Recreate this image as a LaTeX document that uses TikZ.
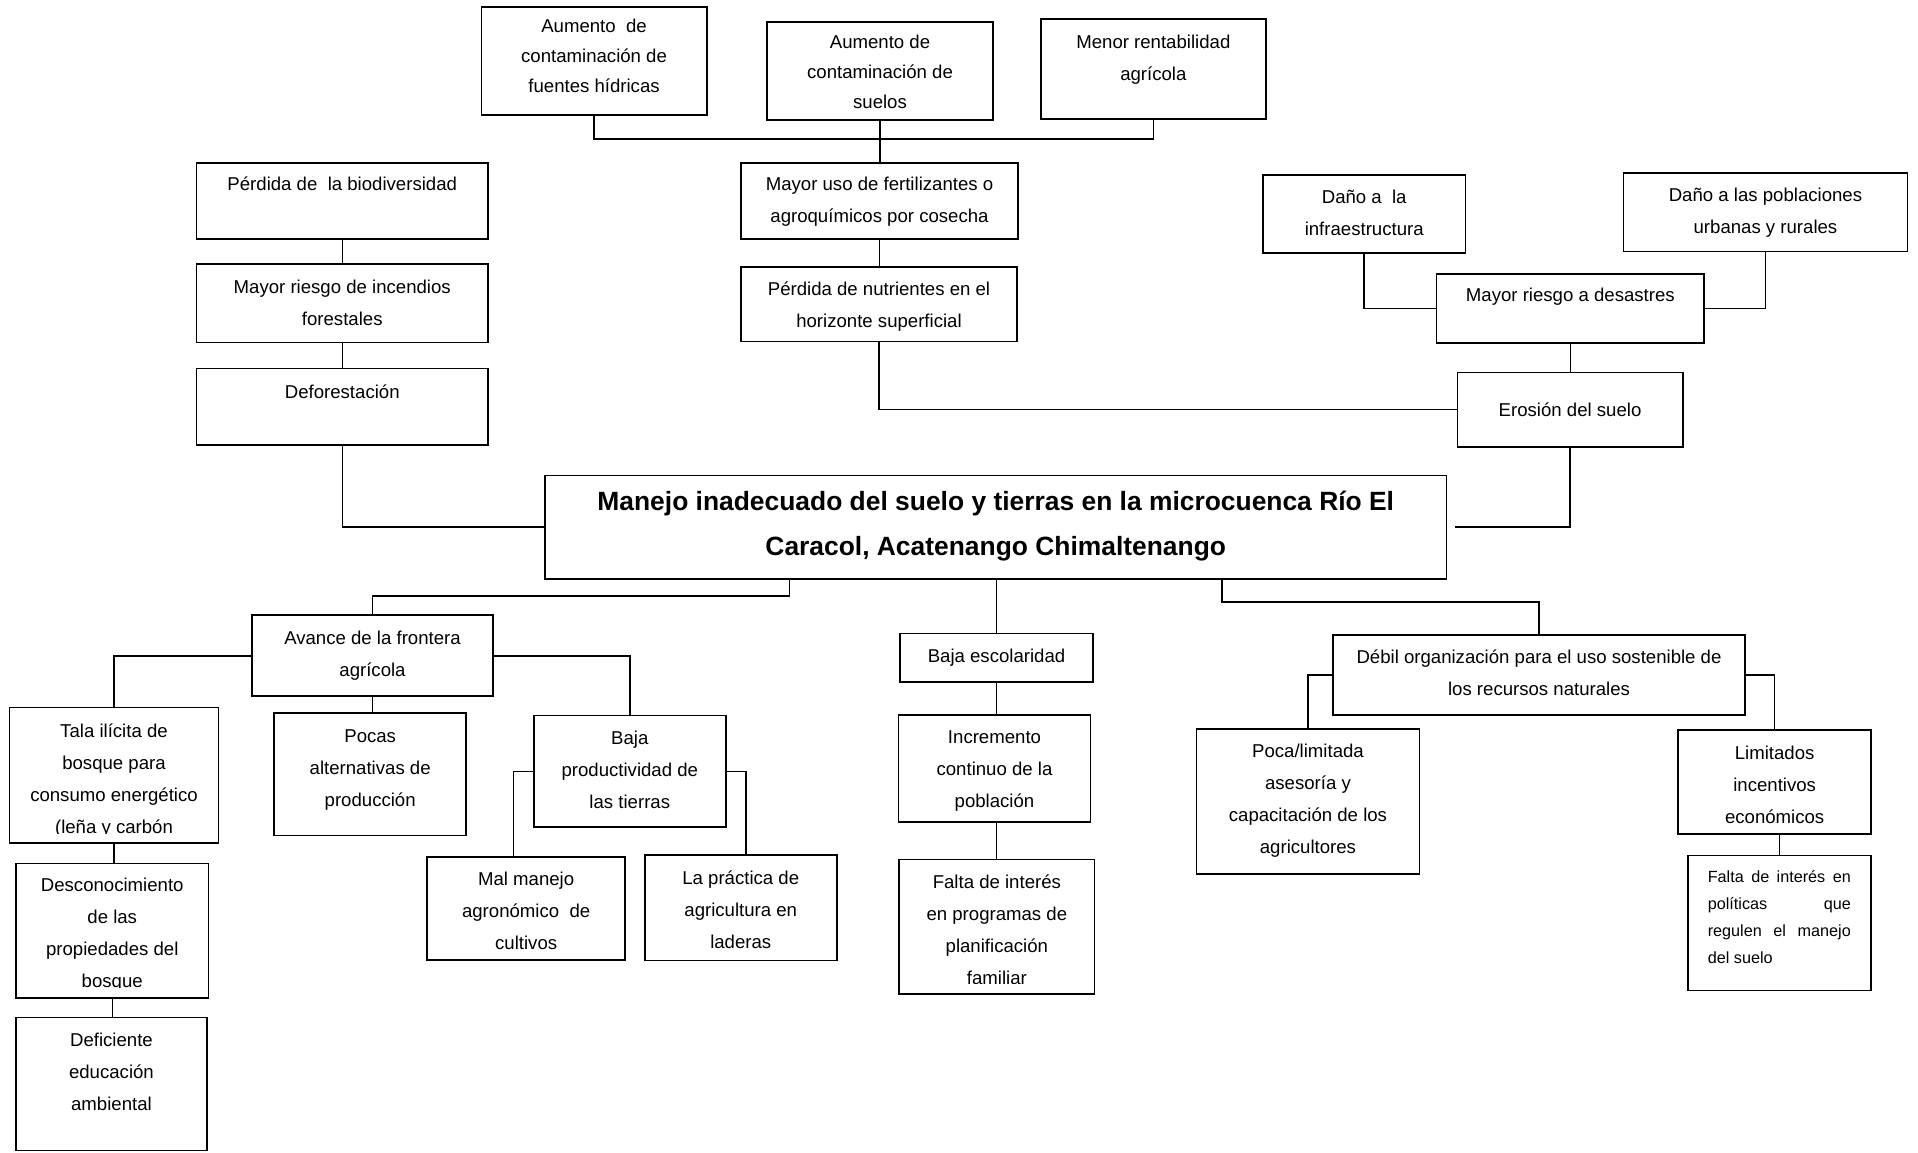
\documentclass[tikz,border=0pt]{standalone}
\usepackage{fontspec}
\setmainfont{Liberation Sans}
\newcommand\F{\rule{0pt}{0.95em}}
\tikzset{
  bxs/.style={draw, line width=1.8pt, inner sep=0pt, outer sep=0pt, anchor=north west},
  txs/.style={font=\fontsize{18.6}{32}\selectfont, align=center, inner sep=0pt, anchor=north},
  cn/.style={line width=1.5pt}
}
\newcommand\bx[5]{\node[bxs, minimum width={#4-#2}, minimum height={#5-#3}] (#1) at (#2,#3) {};}
\newcommand\tx[4][]{\node[txs,#1] (t#2) at (#2.north |- 0,#3) {\F #4};}
\begin{document}
\begin{tikzpicture}[x=1pt,y=-1pt]
\fill[white] (0,0) rectangle (1918,1152);
\useasboundingbox (0,0) rectangle (1918,1152);
% boxes
\bx{hid}{481.5}{6.9}{706.6}{114.8}
\bx{suelos}{767}{22.2}{993}{119.8}
\bx{menor}{1040.7}{19.1}{1266}{118.6}
\bx{bio}{196.5}{163}{488}{239.2}
\bx{muso}{741}{162.6}{1018}{239.2}
\bx{inc}{196.5}{264}{488}{342.5}
\bx{nut}{741}{267}{1017}{341.4}
\bx{def}{196.5}{368.5}{488}{444.7}
\bx{infra}{1263}{174.9}{1465.4}{253.3}
\bx{pobl}{1623.5}{172.6}{1907.4}{251.4}
\bx{des}{1436.4}{274}{1704.3}{342.9}
\bx{ero}{1457.4}{372.4}{1682.7}{447}
\bx{main}{545}{475.5}{1446.5}{578.8}
\bx{avance}{252}{615.3}{493}{696.2}
\bx{tala}{9.5}{707.5}{218.5}{843}
\bx{pocas}{274.2}{713.3}{466.2}{835.4}
\bx{bp}{533.8}{715.5}{725.8}{827.2}
\bx{mal}{427.3}{857}{625}{959.8}
\bx{lap}{644.8}{855}{836.7}{960.5}
\bx{desc}{16}{863.4}{208.5}{998}
\bx{defic}{15.6}{1017.5}{207.3}{1150.5}
\bx{besc}{900}{633.5}{1093}{682}
\bx{incr}{898.5}{715}{1090.5}{822}
\bx{fprog}{899.2}{859.5}{1094.5}{994}
\bx{debil}{1332.8}{635.2}{1745.2}{714.7}
\bx{poca}{1196.4}{729.3}{1419.5}{873.6}
\bx{lim}{1678.3}{729.9}{1871}{833.9}
\bx{pol}{1687.6}{855.5}{1871}{990.5}
% texts
\tx[font=\fontsize{18.6}{29.6}\selectfont]{hid}{15.1}{Aumento~ de\\contaminación de\\fuentes hídricas}
\tx[font=\fontsize{18.6}{30.3}\selectfont]{suelos}{30.4}{Aumento de\\contaminación de\\suelos}
\tx{menor}{30.4}{Menor rentabilidad\\agrícola}
\tx{bio}{173.1}{Pérdida de~ la biodiversidad}
\tx{muso}{173.1}{Mayor uso de fertilizantes o\\agroquímicos por cosecha}
\tx{inc}{275.3}{Mayor riesgo de incendios\\forestales}
\tx{nut}{277.2}{Pérdida de nutrientes en el\\horizonte superficial}
\tx{def}{380.6}{Deforestación}
\tx{infra}{185.4}{Daño a~ la\\infraestructura}
\tx{pobl}{183.5}{Daño a las poblaciones\\urbanas y rurales}
\tx{des}{284.1}{Mayor riesgo a desastres}
\tx{ero}{398.9}{Erosión del suelo}
\tx[font=\bfseries\fontsize{26.4}{45.2}\selectfont]{main}{484.9}{Manejo inadecuado del suelo y tierras en la microcuenca Río El\\Caracol, Acatenango Chimaltenango}
\tx{avance}{626.2}{Avance de la frontera\\agrícola}
\begin{scope}
\clip (tala.north west) rectangle ([yshift=9.3pt]tala.south east);
\tx{tala}{719.8}{Tala ilícita de\\bosque para\\consumo energético\\(leña y carbón}
\end{scope}
\tx{pocas}{724.6}{Pocas\\alternativas de\\producción}
\tx{bp}{726.5}{Baja\\productividad de\\las tierras}
\tx{mal}{867.5}{Mal manejo\\agronómico~ de\\cultivos}
\tx{lap}{866.4}{La práctica de\\agricultura en\\laderas}
\begin{scope}
\clip (desc.north west) rectangle ([yshift=10.3pt]desc.south east);
\tx{desc}{873.8}{Desconocimiento\\de las\\propiedades del\\bosque}
\end{scope}
\tx{defic}{1028.6}{Deficiente\\educación\\ambiental}
\tx{besc}{644.3}{Baja escolaridad}
\tx{incr}{726}{Incremento\\continuo de la\\población}
\begin{scope}
\clip (fprog.north west) rectangle ([yshift=10.8pt]fprog.south east);
\tx{fprog}{870.8}{Falta de interés\\en programas de\\planificación\\familiar}
\end{scope}
\tx{debil}{646}{Débil organización para el uso sostenible de\\los recursos naturales}
\tx{poca}{739.8}{Poca/limitada\\asesoría y\\capacitación de los\\agricultores}
\tx{lim}{741.4}{Limitados\\incentivos\\económicos}
\node[txs, font=\fontsize{16.2}{27}\selectfont, text width=143pt, align=justify, anchor=north west] (tpol) at (1707.6,866.8) {\F Falta de interés en\linebreak políticas que\linebreak regulen el manejo\linebreak del suelo};
% connectors
\coordinate (topbar) at (0,138.9);
\draw[cn] (hid.south) |- (topbar -| menor.south) -- (menor.south);
\draw[cn] (suelos.south) -- (suelos.south |- muso.north);
\draw[cn] (muso.south) -- (muso.south |- nut.north);
\draw[cn] (bio.south) -- (inc.north);
\draw[cn] (inc.south) -- (def.north);
\draw[cn] (def.south) |- (main.west);
\draw[cn] (nut.south) |- (ero.west);
\draw[cn] (infra.south) |- (des.west);
\draw[cn] (pobl.south) |- (des.east);
\draw[cn] (des.south) -- (des.south |- ero.north);
\draw[cn] (ero.south) |- ([xshift=8.5pt]main.east);
\coordinate (mb1) at ([xshift=244.5pt]main.south west);
\coordinate (lbar) at (0,595.9);
\draw[cn] (mb1) -- (mb1 |- lbar) -| (avance.north);
\draw[cn] (besc.north) -- (besc.north |- main.south);
\coordinate (mb2) at ([xshift=677pt]main.south west);
\coordinate (rbar) at (0,602.2);
\draw[cn] (mb2) -- (mb2 |- rbar) -| (debil.north);
\draw[cn] (avance.west) -| (tala.north);
\draw[cn] (avance.south) -- (avance.south |- pocas.north);
\draw[cn] (avance.east) -| (bp.north);
\coordinate (bpl) at ([xshift=-20.4pt]bp.west);
\draw[cn] (bp.west) -- (bpl) -- (bpl |- mal.north);
\coordinate (bpr) at ([xshift=20.4pt]bp.east);
\draw[cn] (bp.east) -- (bpr) -- (bpr |- lap.north);
\draw[cn] (tala.south) -- (tala.south |- desc.north);
\draw[cn] (desc.south) -- (desc.south |- defic.north);
\draw[cn] (besc.south) -- (besc.south |- incr.north);
\draw[cn] (incr.south -| besc.south) -- (fprog.north -| besc.south);
\draw[cn] (debil.west) -| (poca.north);
\draw[cn] (debil.east) -| (lim.north);
\draw[cn] (pol.north) -- (pol.north |- lim.south);
\end{tikzpicture}
\end{document}
